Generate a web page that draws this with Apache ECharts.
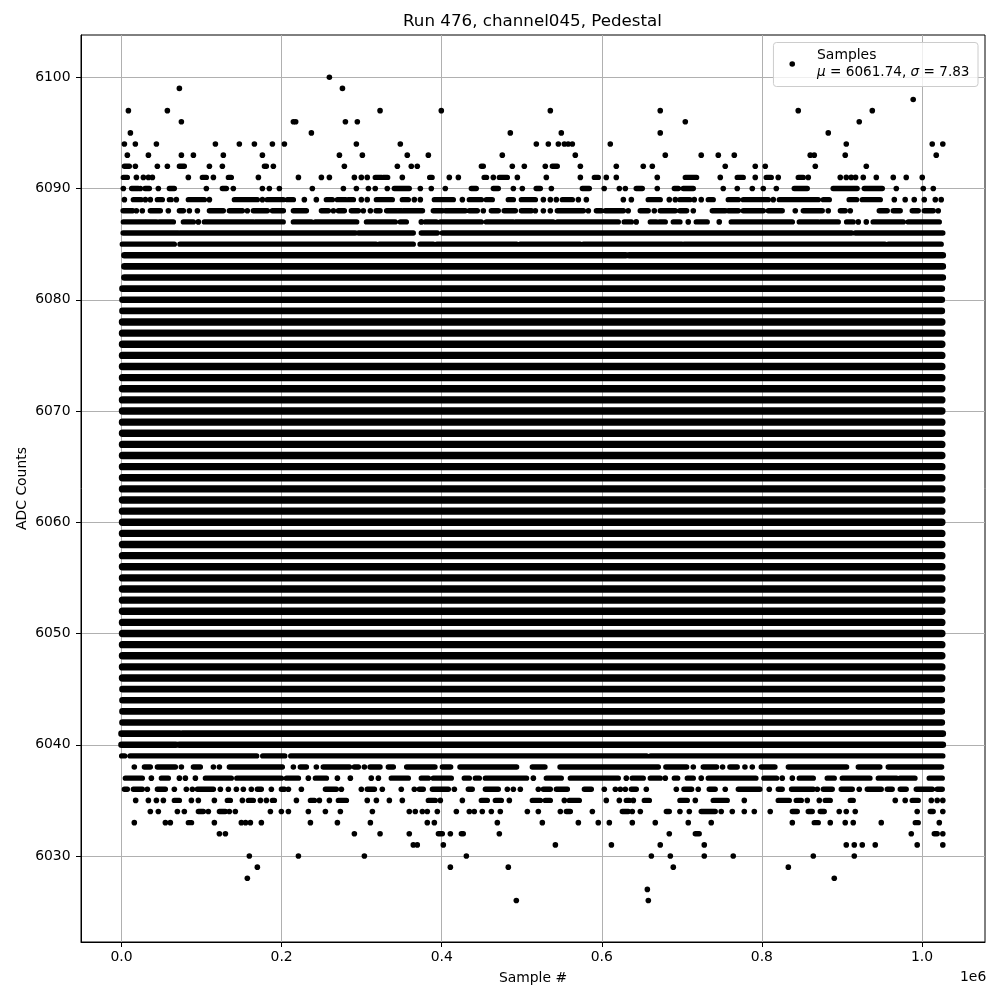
<!DOCTYPE html>
<html><head><meta charset="utf-8">
<style>html,body{margin:0;padding:0;background:#fff}#c{width:1000px;height:1000px}</style>
<script src="https://cdn.jsdelivr.net/npm/echarts@6/dist/echarts.min.js"></script>
</head><body><div id="c"></div>
<script>
// Sample positions are in thousands of samples. A number is one sample; [a,b] is an unbroken run of samples.
const row6100=[259.7];
const row6099=[72.3,276];
const row6098=[989];
const row6097=[8.6,57.3,323,399.5,535.7,673,845.4,937.9];
const row6096=[74.8,214.7,217.6,279.7,294.6,704.3,921.6];
const row6095=[11.1,237.2,485.7,549.4,673,882.9];
const row6094=[3.6,17.3,43.6,117.3,147.2,166,188.5,203.5,293.4,348.3,518.2,533.2,545.7,553.2,558,563.2,610.6,905.4,1012.8,1026];
const row6093=[7.3,33.6,74.8,89.8,127.2,176,272.2,300.9,357,383.3,475.7,566.9,679.3,724.2,745.5,765.5,860.4,865.4,904.1,1017.8];
const row6092=[[3.6,9.8],17.3,44.8,57.3,[72.3,78.5],109.8,126,[178.5,181],189.7,278.4,344.6,362,369.5,[449.5,452],488.2,503.2,529.4,[538.2,544.4],573.2,618.1,651.8,663.1,754.2,791.7,804.2,866.7,930.4];
const row6091=[[2.3,7.3],18.6,27.3,33.6,38.6,83.5,[101,106],114.8,[133.5,137.2],171,221,249.7,259.7,290.9,299.6,307,[317,325],[327,332.5],350.8,[385,388],409.5,420.8,[453,456],464.5,[472,482],494.5,530.7,573.2,[590.7,595.6],605.6,618.1,669.3,[704.3,718.4],748,[769.2,776.7],791.7,[805.4,811.7],820.4,[845.4,851.7],857.9,897.9,905.4,911.6,917,926.6,942.9,964.1,980.3,1000.3];
const row6090=[2.3,[12.7,21],23.5,[29.4,34.8],46,[59.8,66],106,[126,131],139.7,176,184.7,197.2,238.4,277.2,293.4,308.4,317,332,[340.8,359.5],373.3,387,404.5,[437,443.2],[464.5,470.7],489.5,500.7,[518,523.2],537,[575.7,584.4],603,621.9,629.4,[643,650.6],669.3,[690.6,695.6],[701.8,714.3],751.7,769.2,788,801.7,818,[840.4,856.7],[889,919],[927.9,950.4],967.9,1001.6,1014.1];
const row6089=[3.6,[14.8,24.4],29.8,36,[44.8,51],[59.8,62],68.5,[83.5,103.5],109.8,[141,169.7],176,[182,202.2],[207.2,214.7],228.4,243.4,[255.9,263.4],[269.7,279.7],[283.4,289.7],299.6,307,[318.4,338.3],[350.8,358.3],365.8,373.3,[390.8,414.5],425.8,[434.5,449.5],[455.7,463.2],[483.2,489.5],[499.5,517],527,535.7,543.2,[550.7,563.2],570.7,580.7,626.9,636.9,[658,673],684.3,691.8,[697.6,710],715.5,724.2,[733,739.2],[758,770.5],[776.7,808],814.2,[821.7,870.4],[876.7,884.2],[909,918.3],[925.4,947.9],965.4,979,990.3,1002.8,1016.6,1024];
const row6088=[[2,14],18.6,26,[36,48.5],58.5,[72.3,77.3],84.8,94.8,[109.8,127.2],[134.7,151],157.2,[164.7,182.2],[188.5,202.2],[214.7,231],[249.7,258.4],264.7,[270.9,278.4],[287.1,295.9],302.1,310.9,[318,323],[331.2,350],[352,376],[389.5,400.8],[404.5,429.5],[434.5,444.5],452,[462,470.7],[478,492],[499.5,512],517,527,535.7,[544.4,577],583.2,[593.2,599.4],[604.4,627],633,[648,658],665.6,[673,691.8],[697.6,706],714.3,[738,754.2],[758,770.5],[776.7,801.7],[808,825.4],841.7,[851.7,875.4],882.9,[898,904.1],910.4,[946.6,956.6],[964.1,972.8],[987.8,995.3],[1002.8,1014.1],1020.3];
const row6087=[[2.3,21],[22.3,29.8],[31,43.6],[47.3,64.8],[77.3,89.8],96,[103.5,127.2],[127,165],[167,202],[214.7,237.2],[242,293.8],[306,342],[348.3,355.8],374.5,[379.5,393.3],[398.3,449.5],[455.7,489.5],[492,539.4],[544.4,620.6],[628,636.9],643,[660.6,668],[671.9,679.3],[689.3,697.6],708,[718,731.7],746.7,[761.7,838],[846.7,870.4],[873,895.4],[905.8,914],920.4,930.4,[939,976.6],[982.8,1021.6]];
const row6086=[[2,71],[73,292],[296,364.5],[374.5,394.5],[400.8,912],[916.6,1026]];
const row6085=[[1,66],[73,318],[322,364.5],[373,389.5],[394,493.6],[498,573],[577,700],[703,953.7],[958,1024]];
const row6084=[[3.6,630],[634,1026]];
const row6083=[[3.6,1026]];
const row6082=[[3.6,1026]];
const fullRows=[6081,6080,6079,6078,6077,6076,6075,6074,6073,6072,6071,6070,6069,6068,6067,6066,6065,6064,6063,6062,6061,6060,6059,6058,6057,6056,6055,6054,6053,6052,6051,6050,6049,6048,6047,6046,6045,6044,6043,6042];
const fullRowExtent=[1.2,1024.8];
const row6041=[[0,73],[76,1026]];
const row6040=[[0,68],[72,1026]];
const row6039=[[0.2,4],[10.7,168.9],[176.4,204],[211.4,656],[661,1026]];
const row6038=[16,[28.6,36],[44.8,67.3],74.8,[89.8,98.5],114.8,122.3,[134.7,200.9],214.7,[223.4,231],243.4,[252,284.7],[290.9,295.9],303.4,[310.5,323],[333.3,339.6],[356.2,391.6],[400.8,411.2],[422.8,493.6],[513.2,529],[547.8,670.6],[680,706],714.3,[726.7,743.4],750.9,[760,769.2],778.8,788,[799.2,816.3],[833,905.8],[920.4,947.4],[957.8,1024.5]];
const row6037=[[4.8,26],37.3,[49.8,58.5],72.3,79.8,92.3,[104.8,137.2],[144,199.7],[206,221],233.4,[242.2,256],269.7,285.9,312,320.9,[337,358.3],[374.5,383.3],[389.5,412],[428.2,434.5],[442,447],[454.5,506],514.5,[530.7,549.4],[560.7,620.6],630.6,[638,651.8],[660.6,673],679.3,[690.6,694.8],[706.8,714.3],724.2,[733,792.5],[802.5,818.4],825.4,838,[846.7,864.2],[881.6,890.4],[900.4,935],[945.4,968.3],[972.4,991.2],[1009,1025.3]];
const row6036=[[3.6,7.3],[14.8,26],32.3,[44.8,54.8],66,81,88.5,[94.8,114.8],123.5,133.5,143.5,152.2,162.2,[169.7,174.7],187.2,[199.7,203.5],208.5,224.7,[254.7,268.4],274.7,299.6,[307,316],325.8,349.5,365.8,[372,377],[388.3,408.3],415.8,[433.2,438.2],[454.5,470.7],482,489.5,498.2,520.7,[527,535.7],[543.2,557],[578.2,586.9],603.1,616.9,623.1,629.4,[636.9,643.1],655.6,693.1,[702.6,712.2],720.5,[734.2,741.7],754.2,[770.5,797.5],809.2,[820.4,825.4],[837,864.2],869.2,[876.7,887.9],[899.1,912.9],921.6,[931.6,949.1],[956.6,962.8],[972.8,980.3],[992.8,1012.8],[1019,1025.3]];
const row6035=[17.7,33.6,43.6,52.3,[66,72.3],87.3,96,116,[132.2,136],151,[158.5,164.7],173.5,181,[188.5,191],218.5,[236,241],247.2,259.7,[270.9,281],307,318.4,334.6,350.8,[383.3,392],398.3,425.8,[449.5,457],[467,474.5],484.5,[513.2,523.2],[529.4,535.7],553.2,[559.4,571.9],605.6,621.9,[630.6,634.4],639.4,[653.1,659.4],[697.6,706.8],716.8,[739.2,756.7],778,[820.4,834.2],[842.9,849.2],856.7,871.7,[879.1,885.4],[910.4,914.1],966.6,979,[987.8,995.3],1011.6,1019,1026];
const row6034=[36,46,69.8,78.5,[96,102.3],108.5,[122.3,129.8],134.7,142.2,186,199.7,208.5,233.4,254.7,273.4,313.4,359.5,367,375.8,382,394.5,418.3,434.5,440.7,450.7,462,473.2,507,520.7,548.2,[555.7,560.7],588.2,[625.6,633.1],638.1,648.1,[680.6,684.3],697.6,709.3,[724.2,741.7],749.2,763,778,790.5,810.4,[838,844.2],[857.9,862.9],[872.9,877.9],896.6,905.4,916.6,994,[1010.3,1014],1026];
const row6033=[16,54.8,61,[83.5,87.5],116,149.7,155,161,174.7,236,269.7,310.9,382,390.8,469.5,525.7,570.7,595.6,609.4,638.1,666.8,708,736.7,838,[865.4,870.4],885.4,904.1,914.1,949.1,[991.6,995.3],1021.6];
const row6032=[122.3,129.8,290.9,323,359.5,[395.8,400.8],410.8,[424.5,427],472,684.3,[716.8,721.7],986.6,[1015.3,1019],1026];
const row6031=[364.5,369.5,402,542,612,673,728,905.4,915.4,925.4,941.6,994,1026];
const row6030=[159.7,221,303.4,430.8,661.9,685.6,728,764.2,864.2,915.4];
const row6029=[169.7,410.8,483.2,689.3,833];
const row6028=[157.2,890.4];
const row6027=[656.9];
const row6026=[493.2,658.1];

const levels=[6100,6099,6098,6097,6096,6095,6094,6093,6092,6091,6090,6089,6088,6087,6086,6085,6084,6083,6082,6041,6040,6039,6038,6037,6036,6035,6034,6033,6032,6031,6030,6029,6028,6027,6026];
const rows=[row6100,row6099,row6098,row6097,row6096,row6095,row6094,row6093,row6092,row6091,row6090,row6089,row6088,row6087,row6086,row6085,row6084,row6083,row6082,row6041,row6040,row6039,row6038,row6037,row6036,row6035,row6034,row6033,row6032,row6031,row6030,row6029,row6028,row6027,row6026];
const thickLevels=[6084,6083,6082,6081,6080,6079,6045,6044,6043,6042,6041,6040];
const xTicks=[0,200000,400000,600000,800000,1000000];
const yTicks=[6030,6040,6050,6060,6070,6080,6090,6100];
const xLimits=[-50600,1078700];
const yLimits=[6022.27,6103.8];
const titleText='Run 476, channel045, Pedestal';
const xName='Sample #';
const yName='ADC Counts';
const seriesName='Samples';
const meanText='6061.74';
const sigmaText='7.83';

const dots=[],thinRuns=[],thickRuns=[],coreRuns=[];
rows.forEach((r,i)=>r.forEach(e=>{
  const l=levels[i];
  if(Array.isArray(e)){(thickLevels.includes(l)?thickRuns:thinRuns).push([e[0]*1000,l],[e[1]*1000,l],[null,null]);}
  else dots.push([e*1000,l]);
}));
fullRows.forEach(l=>{(thickLevels.includes(l)?thickRuns:coreRuns).push([fullRowExtent[0]*1000,l],[fullRowExtent[1]*1000,l],[null,null]);});

const font='"DejaVu Sans"';
const runSeries=(name,data,width)=>({name,type:'line',data,showSymbol:false,symbol:'none',connectNulls:false,silent:true,z:3,
  lineStyle:{color:'#000',width,cap:'round',join:'round',opacity:1}});
const chart=echarts.init(document.getElementById('c'),null,{renderer:'canvas'});
chart.setOption({
  animation:false,
  backgroundColor:'#fff',
  title:{text:titleText,left:403,top:13,padding:0,textStyle:{fontFamily:font,fontSize:16.7,fontWeight:'normal',color:'#000'}},
  grid:{left:81,top:35,width:904,height:907,show:true,borderColor:'#000',borderWidth:1,backgroundColor:'transparent'},
  xAxis:{type:'value',min:xLimits[0],max:xLimits[1],name:xName,nameLocation:'middle',nameGap:29,
    nameTextStyle:{fontFamily:font,fontSize:13.9,color:'#000'},
    axisLine:{show:true,onZero:false,lineStyle:{color:'#000',width:1}},
    axisTick:{show:true,length:5,inside:false,customValues:xTicks,lineStyle:{color:'#000',width:1}},
    axisLabel:{customValues:xTicks,formatter:v=>(v/1e6).toFixed(1),fontFamily:font,fontSize:13.9,color:'#000',margin:8},
    splitLine:{show:true,lineStyle:{color:'#b0b0b0',width:1}}},
  yAxis:{type:'value',min:yLimits[0],max:yLimits[1],name:yName,nameLocation:'middle',nameGap:52,nameMoveOverlap:false,
    nameTextStyle:{fontFamily:font,fontSize:13.9,color:'#000'},
    axisLine:{show:true,onZero:false,lineStyle:{color:'#000',width:1}},
    axisTick:{show:true,length:5,customValues:yTicks,lineStyle:{color:'#000',width:1}},
    axisLabel:{customValues:yTicks,formatter:v=>String(v),fontFamily:font,fontSize:13.9,color:'#000',margin:10.5},
    splitLine:{show:true,lineStyle:{color:'#b0b0b0',width:1}}},
  legend:{data:[seriesName],right:22,top:42.5,orient:'vertical',padding:[6,8.5,7,16],itemWidth:5.6,itemHeight:5.6,
    icon:'circle',backgroundColor:'rgba(255,255,255,0.8)',borderColor:'#cccccc',borderWidth:1,borderRadius:3,
    itemStyle:{opacity:1},
    formatter:()=>'{s|}{t|'+seriesName+'}\n{s|}{i|\u03bc}{u| = '+meanText+', }{i|\u03c3}{u| = '+sigmaText+'}',
    textStyle:{fontFamily:font,fontSize:13.9,color:'#000',
      rich:{s:{width:17,lineHeight:17},t:{fontFamily:font,fontSize:13.9,color:'#000',lineHeight:17},u:{fontFamily:font,fontSize:13.6,color:'#000',lineHeight:17},i:{fontFamily:font,fontSize:13.6,fontStyle:'italic',color:'#000',lineHeight:17}}}},
  graphic:[{type:'text',left:960,top:970,silent:true,style:{text:'1e6',fontFamily:font,fontSize:13.9,fill:'#000'}}],
  series:[
    runSeries('thin',thinRuns,5.4),
    runSeries('thick',thickRuns,6.6),
    runSeries('core',coreRuns,7.4),
    {name:seriesName,type:'scatter',data:dots,symbol:'circle',symbolSize:5.6,silent:true,z:4,itemStyle:{color:'#000',opacity:1}}
  ]
});
</script></body></html>
